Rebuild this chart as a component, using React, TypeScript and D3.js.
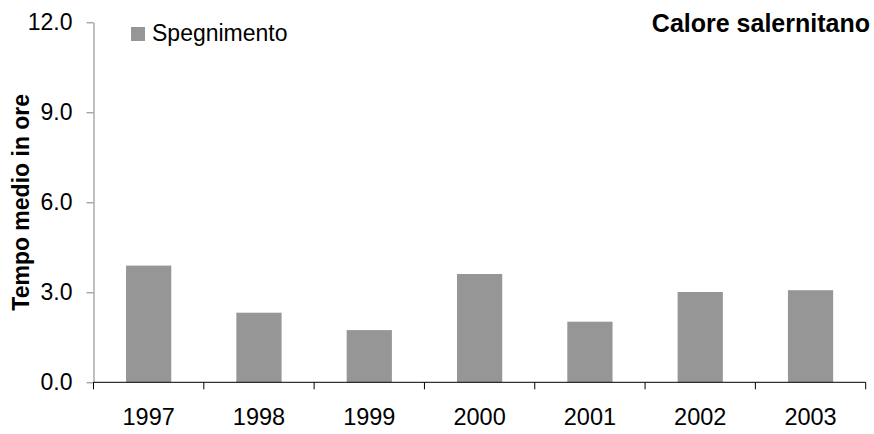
// bar chart with d3: tempo medio di spegnimento, Calore salernitano
import * as d3 from "d3";
import { useEffect, useRef } from "react";

const years = ["1997", "1998", "1999", "2000", "2001", "2002", "2003"];
const spegnimento = [3.89, 2.32, 1.74, 3.61, 2.02, 3.01, 3.07];
const yTicks = [0, 3, 6, 9, 12];
const seriesName = "Spegnimento";
const title = "Calore salernitano";
const yLabel = "Tempo medio in ore";

export default function App() {
  const svgRef = useRef<SVGSVGElement>(null);

  useEffect(() => {
    const width = 874;
    const height = 434;
    const left = 93.5;
    const right = 865.7;
    const top = 22.3;
    const bottom = 382.3;

    const svg = d3.select(svgRef.current);
    svg.selectAll("*").remove();
    svg.attr("width", width).attr("height", height);

    const font = "'Liberation Sans', Arial, sans-serif";

    // scales
    const x = d3.scaleBand().domain(years).range([left, right]).padding(0);
    const y = d3.scaleLinear().domain([0, 12]).range([bottom, top]);
    const barW = x.bandwidth() * 0.41;

    // bars
    svg
      .append("g")
      .selectAll("rect")
      .data(spegnimento)
      .enter()
      .append("rect")
      .attr("x", (d, i) => x(years[i])! + x.bandwidth() / 2 - barW / 2)
      .attr("y", (d) => y(d))
      .attr("width", barW)
      .attr("height", (d) => y(0) - y(d))
      .style("fill", "#969696");

    // y axis
    const yAxis = svg
      .append("g")
      .attr("transform", "translate(" + left + ",0)")
      .call(
        d3
          .axisLeft(y)
          .tickValues(yTicks)
          .tickFormat(d3.format(".1f"))
          .tickSize(7)
          .tickSizeOuter(0)
          .tickPadding(14)
      );
    yAxis.select(".domain").attr("stroke", "#808080");
    yAxis.selectAll(".tick line").attr("stroke", "#808080");
    yAxis
      .selectAll(".tick text")
      .style("font-family", font)
      .style("font-size", "23px")
      .style("fill", "#000");

    // x axis line and ticks at band edges
    const xg = svg.append("g");
    xg.append("line")
      .attr("x1", left)
      .attr("x2", right)
      .attr("y1", bottom)
      .attr("y2", bottom)
      .attr("stroke", "#000");
    const edges = years.map((d) => x(d)!).concat([right]);
    xg.selectAll(".xt")
      .data(edges)
      .enter()
      .append("line")
      .attr("x1", (d) => d)
      .attr("x2", (d) => d)
      .attr("y1", bottom)
      .attr("y2", bottom + 7)
      .attr("stroke", "#000");
    xg.selectAll(".xl")
      .data(years)
      .enter()
      .append("text")
      .attr("x", (d) => x(d)! + x.bandwidth() / 2)
      .attr("y", bottom + 43)
      .attr("text-anchor", "middle")
      .style("font-family", font)
      .style("font-size", "23.5px")
      .text((d) => d);

    // y label
    svg
      .append("text")
      .attr("transform", "translate(28.5," + (top + bottom) / 2 + ") rotate(-90)")
      .attr("text-anchor", "middle")
      .style("font-family", font)
      .style("font-size", "23px")
      .style("font-weight", "bold")
      .text(yLabel);

    // title
    svg
      .append("text")
      .attr("x", 870)
      .attr("y", 32)
      .attr("text-anchor", "end")
      .style("font-family", font)
      .style("font-size", "25px")
      .style("font-weight", "bold")
      .text(title);

    // legend
    svg
      .append("rect")
      .attr("x", 131)
      .attr("y", 27)
      .attr("width", 14)
      .attr("height", 14)
      .style("fill", "#969696");
    svg
      .append("text")
      .attr("x", 152)
      .attr("y", 41)
      .style("font-family", font)
      .style("font-size", "23px")
      .text(seriesName);
  }, []);

  return (
    <svg
      ref={svgRef}
      style={{ position: "absolute", left: 0, top: 0, background: "#fff" }}
    />
  );
}
